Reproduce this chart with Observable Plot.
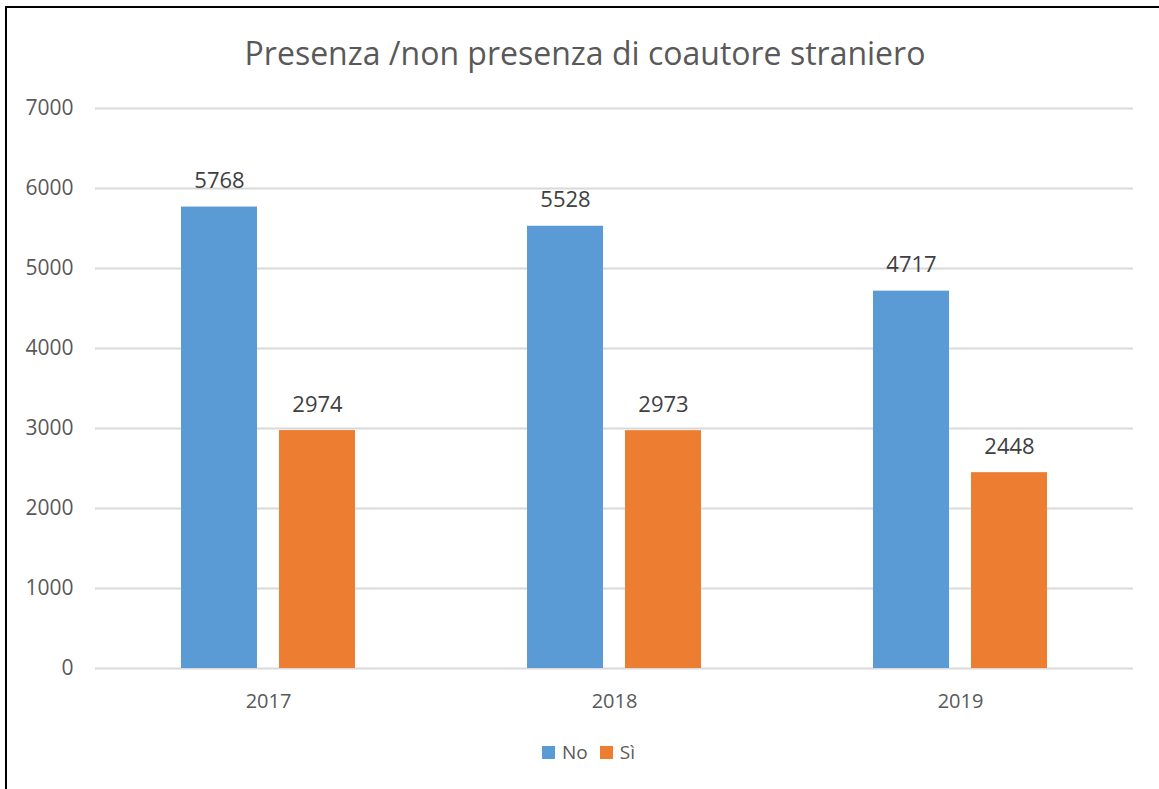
<!DOCTYPE html>
<html>
<head>
<meta charset="utf-8">
<script src="https://cdn.jsdelivr.net/npm/d3@7"></script>
<script src="https://cdn.jsdelivr.net/npm/@observablehq/plot@0.6"></script>
<style>
  html, body { margin: 0; padding: 0; background: #fff; }
  body { width: 1159px; height: 789px; overflow: hidden; position: relative; font-family: "Open Sans", sans-serif; }
  #frame { position: absolute; left: 5px; top: 6px; width: 1200px; height: 800px; border-left: 2px solid #000; border-top: 2px solid #000; box-sizing: border-box; }
  #title { position: absolute; left: 0; top: 33px; width: 1170px; height: 40px; line-height: 40px; text-align: center; font-size: 32px; color: #595959; white-space: nowrap; }
  #chart { position: absolute; left: 0; top: 88px; }
  #chart g[aria-label^="y-axis"] { font-size: 21px; }
  #legend { position: absolute; left: 9px; top: 728px; width: 1159px; height: 48px; display: flex; justify-content: center; align-items: center; gap: 12px; font-size: 19px; color: #595959; }
  .item { display: flex; align-items: center; gap: 7px; }
  .sw { width: 13px; height: 13px; display: inline-block; }
</style>
</head>
<body>
<div id="frame"></div>
<div id="title">Presenza /non presenza di coautore straniero</div>
<div id="chart"></div>
<div id="legend"></div>
<script>
const years = ["2017", "2018", "2019"];
const series = ["No", "Sì"];
const noValues = [5768, 5528, 4717];
const siValues = [2974, 2973, 2448];
const yTicks = [0, 1000, 2000, 3000, 4000, 5000, 6000, 7000];
const colors = ["#5b9bd5", "#ed7d31"];

const data = years.flatMap((y, i) => [
  {year: y, serie: series[0], value: noValues[i]},
  {year: y, serie: series[1], value: siValues[i]}
]);

const chart = Plot.plot({
  width: 1159,
  height: 640,
  marginLeft: 95,
  marginRight: 26,
  marginTop: 20,
  marginBottom: 60,
  style: {fontSize: "20px", fontFamily: "Open Sans, sans-serif", color: "#595959", background: "transparent"},
  fx: {domain: years, padding: 0, label: null, axis: "bottom", tickSize: 0, tickPadding: 25},
  x: {domain: series, paddingInner: 0.222, paddingOuter: 0.859, axis: null},
  y: {domain: [0, 7000], ticks: yTicks, tickFormat: d => String(d), label: null, tickSize: 0, tickPadding: 22},
  color: {domain: series, range: colors},
  marks: [
    Plot.ruleY(yTicks, {stroke: "#d9d9d9", strokeWidth: 2}),
    Plot.barY(data, {fx: "year", x: "serie", y: "value", fill: "serie"}),
    Plot.text(data, {fx: "year", x: "serie", y: "value", text: d => String(d.value), dy: -26, fontSize: 22, fill: "#404040"})
  ]
});
document.getElementById("chart").appendChild(chart);

const legend = document.getElementById("legend");
series.forEach((s, i) => {
  const item = document.createElement("div");
  item.className = "item";
  const sw = document.createElement("span");
  sw.className = "sw";
  sw.style.background = colors[i];
  const lab = document.createElement("span");
  lab.textContent = s;
  item.appendChild(sw);
  item.appendChild(lab);
  legend.appendChild(item);
});
</script>
</body>
</html>
